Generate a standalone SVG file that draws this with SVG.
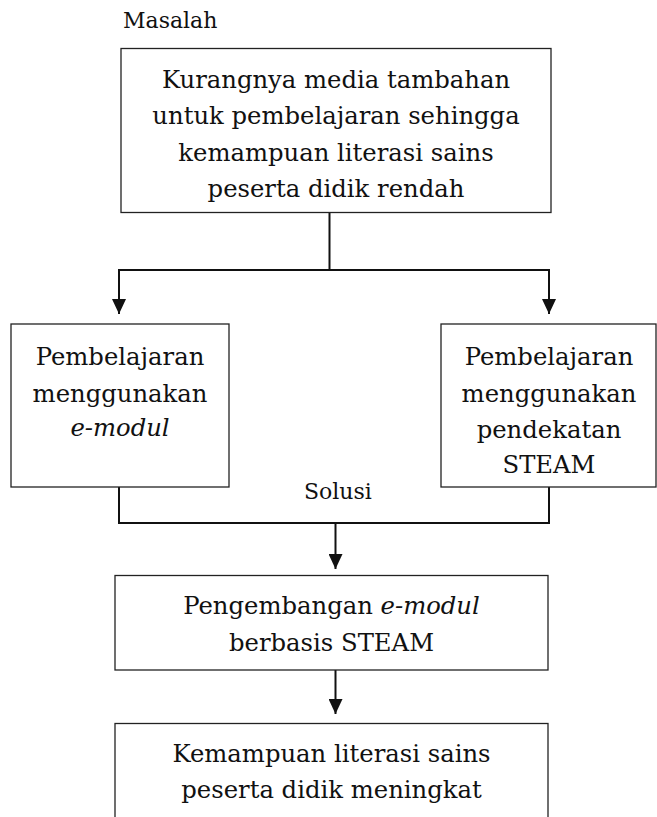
<svg xmlns="http://www.w3.org/2000/svg" width="657" height="817" viewBox="0 0 657 817">
<style>
.box{fill:#fff;stroke:#222;stroke-width:1.3}
.t{font-family:"DejaVu Serif","Liberation Serif",serif;font-size:24.3px;fill:#111;text-anchor:middle}
.lbl{font-family:"DejaVu Serif","Liberation Serif",serif;font-size:22px;fill:#111}
.c{fill:none;stroke:#111;stroke-width:2}
.i{font-style:italic}
</style>
<defs>
<marker id="arr" markerUnits="userSpaceOnUse" markerWidth="15" markerHeight="14" refX="15" refY="7" orient="auto">
<path d="M0,0 L15,7 L0,14 z" fill="#111"/>
</marker>
</defs>
<rect width="657" height="817" fill="#fff"/>
<text class="lbl" x="123" y="28">Masalah</text>
<text class="lbl" x="304" y="498.5">Solusi</text>
<g id="connectors">
<path class="c" d="M329.5,213 V270"/>
<path class="c" d="M118,270 H550"/>
<path class="c" d="M119,270 V314" marker-end="url(#arr)"/>
<path class="c" d="M549,270 V314" marker-end="url(#arr)"/>
<path class="c" d="M119,487 V523 H549 V487"/>
<path class="c" d="M335.5,523 V569" marker-end="url(#arr)"/>
<path class="c" d="M335.5,670 V714" marker-end="url(#arr)"/>
</g>
<g id="problem">
<rect class="box" x="121" y="48.5" width="430" height="164"/>
<text class="t" x="336" y="87.5">Kurangnya media tambahan</text>
<text class="t" x="336" y="124">untuk pembelajaran sehingga</text>
<text class="t" x="336" y="160.5">kemampuan literasi sains</text>
<text class="t" x="336" y="197">peserta didik rendah</text>
</g>
<g id="emodul">
<rect class="box" x="11" y="324" width="218" height="163"/>
<text class="t" x="120" y="365">Pembelajaran</text>
<text class="t" x="120" y="401.5">menggunakan</text>
<text class="t i" x="120" y="436">e-modul</text>
</g>
<g id="steam">
<rect class="box" x="441" y="324" width="215" height="163"/>
<text class="t" x="549" y="365">Pembelajaran</text>
<text class="t" x="549" y="401.5">menggunakan</text>
<text class="t" x="549" y="438">pendekatan</text>
<text class="t" x="549" y="473">STEAM</text>
</g>
<g id="development">
<rect class="box" x="115" y="575.5" width="433" height="94.5"/>
<text class="t" x="331.5" y="614">Pengembangan <tspan class="i">e-modul</tspan></text>
<text class="t" x="331.5" y="650.5">berbasis STEAM</text>
</g>
<g id="result">
<rect class="box" x="115" y="723.5" width="433" height="110"/>
<text class="t" x="331.5" y="761.5">Kemampuan literasi sains</text>
<text class="t" x="331.5" y="798">peserta didik meningkat</text>
</g>
</svg>
